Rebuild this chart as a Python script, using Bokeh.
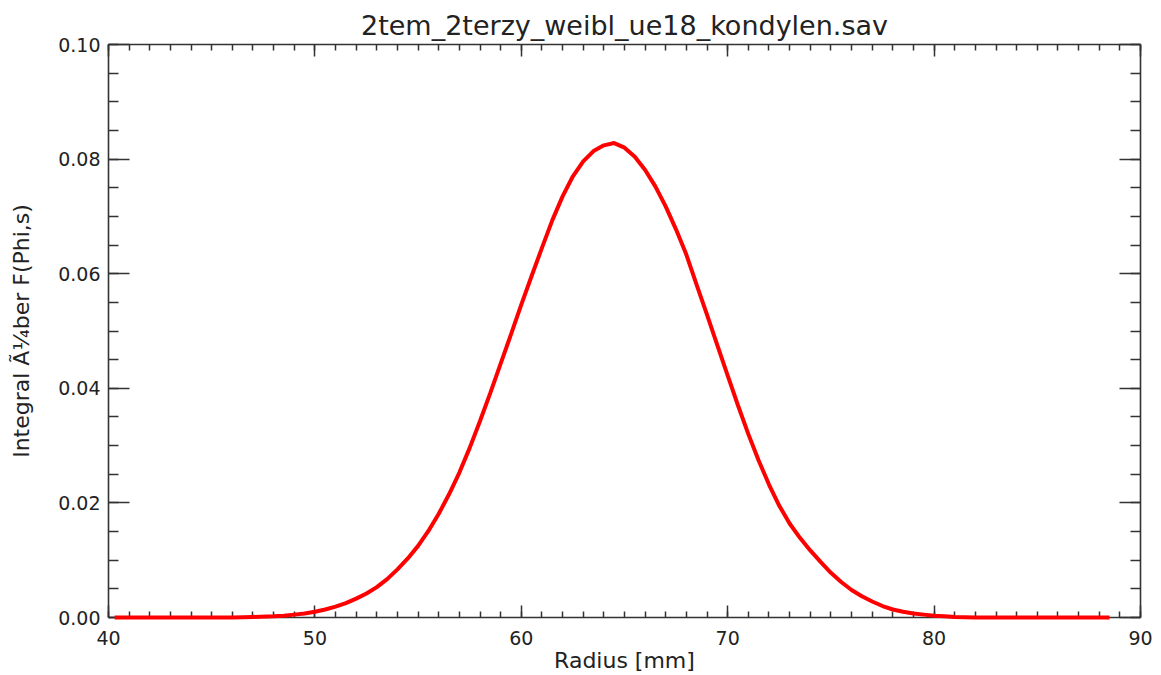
from bokeh.plotting import figure
from bokeh.models import Range1d, FixedTicker, LinearAxis, PrintfTickFormatter, CustomJSTickFormatter
from bokeh.embed import file_html
from bokeh.resources import INLINE

# ---- data ----
title_text = "2tem_2terzy_weibl_ue18_kondylen.sav"
x_label = "Radius [mm]"
y_label = "Integral Ã¼ber F(Phi,s)"

x_ticks = [40, 50, 60, 70, 80, 90]
x_minor = [v for v in range(40, 91)]
y_ticks = [0.00, 0.02, 0.04, 0.06, 0.08, 0.10]
y_minor = [i * 0.005 for i in range(0, 21)]

radius = [40.3, 42, 44, 46, 47, 48, 48.5, 49, 49.5,
          50, 50.5, 51, 51.5, 52, 52.5, 53, 53.5, 54, 54.5,
          55, 55.5, 56, 56.5, 57, 57.5, 58, 58.5, 59, 59.5,
          60, 60.5, 61, 61.5, 62, 62.5, 63, 63.5, 64, 64.5,
          65, 65.5, 66, 66.5, 67, 67.5, 68, 68.5, 69, 69.5,
          70, 70.5, 71, 71.5, 72, 72.5, 73, 73.5, 74, 74.5,
          75, 75.5, 76, 76.5, 77, 77.5, 78, 78.5, 79, 79.5,
          80, 80.5, 81, 82, 84, 86, 88.5]
integral = [0.0, 0.0, 0.0, 0.0, 0.0001, 0.0002, 0.0003, 0.0005, 0.0007,
            0.0010, 0.0014, 0.0019, 0.0025, 0.0033, 0.0042, 0.0053, 0.0067, 0.0084, 0.0103,
            0.0125, 0.0151, 0.0181, 0.0215, 0.0253, 0.0296, 0.0343, 0.0392, 0.0443, 0.0494,
            0.0546, 0.0596, 0.0645, 0.0693, 0.0735, 0.0770, 0.0796, 0.0814, 0.0824, 0.0828,
            0.0820, 0.0804, 0.0781, 0.0752, 0.0717, 0.0677, 0.0633, 0.0580, 0.0528, 0.0475,
            0.0422, 0.0370, 0.0320, 0.0274, 0.0232, 0.0195, 0.0164, 0.0139, 0.0117, 0.0097,
            0.0078, 0.0062, 0.0048, 0.0037, 0.0028, 0.0020, 0.0014, 0.0010, 0.0007, 0.0005,
            0.0003, 0.0002, 0.0001, 0.0, 0.0, 0.0, 0.0]

FONT = "DejaVu Sans"
TXT = "#222222"
AX = "#333333"

p = figure(width=1155, height=675, output_backend="svg", toolbar_location=None,
           x_range=Range1d(40, 90), y_range=Range1d(0, 0.1),
           title=title_text,
           min_border_left=108, min_border_right=15, min_border_top=44, min_border_bottom=57,
           x_axis_type=None, y_axis_type=None)
p.grid.visible = False
p.outline_line_color = None
p.background_fill_color = "white"
p.border_fill_color = "white"

p.title.align = "center"
p.title.text_font = FONT
p.title.text_font_size = "27px"
p.title.text_font_style = "normal"
p.title.text_color = TXT
p.title.standoff = 7

xt = FixedTicker(ticks=x_ticks, minor_ticks=x_minor)
yt = FixedTicker(ticks=y_ticks, minor_ticks=y_minor)


def style(ax, horizontal, labels):
    ax.axis_line_color = AX
    ax.axis_line_width = 1.6
    ax.major_tick_line_color = AX
    ax.minor_tick_line_color = AX
    ax.major_tick_line_width = 1.5
    ax.minor_tick_line_width = 1.5
    ax.major_tick_out = 0
    ax.minor_tick_out = 0
    if horizontal:
        ax.major_tick_in = 12
        ax.minor_tick_in = 6
    else:
        ax.major_tick_in = 21
        ax.minor_tick_in = 10
    if labels:
        ax.major_label_text_font = FONT
        ax.major_label_text_font_size = "19px"
        ax.major_label_text_color = TXT
        ax.axis_label_text_font = FONT
        ax.axis_label_text_font_size = "22px"
        ax.axis_label_text_font_style = "normal"
        ax.axis_label_text_color = TXT
    else:
        ax.formatter = CustomJSTickFormatter(code="return '';")
        ax.major_label_standoff = 0


bottom = LinearAxis(ticker=xt, axis_label=x_label)
style(bottom, True, True)
bottom.major_label_standoff = 13
bottom.axis_label_standoff = 0
p.add_layout(bottom, "below")

top = LinearAxis(ticker=xt)
style(top, True, False)
p.add_layout(top, "above")

left = LinearAxis(ticker=yt, axis_label=y_label, formatter=PrintfTickFormatter(format="%.2f"))
style(left, False, True)
left.major_label_standoff = 8
left.axis_label_standoff = 21
p.add_layout(left, "left")

right = LinearAxis(ticker=yt)
style(right, False, False)
p.add_layout(right, "right")

p.line(radius, integral, line_color="#ff0000", line_width=4, level="overlay")

open("out.html", "w").write(file_html(p, INLINE))
